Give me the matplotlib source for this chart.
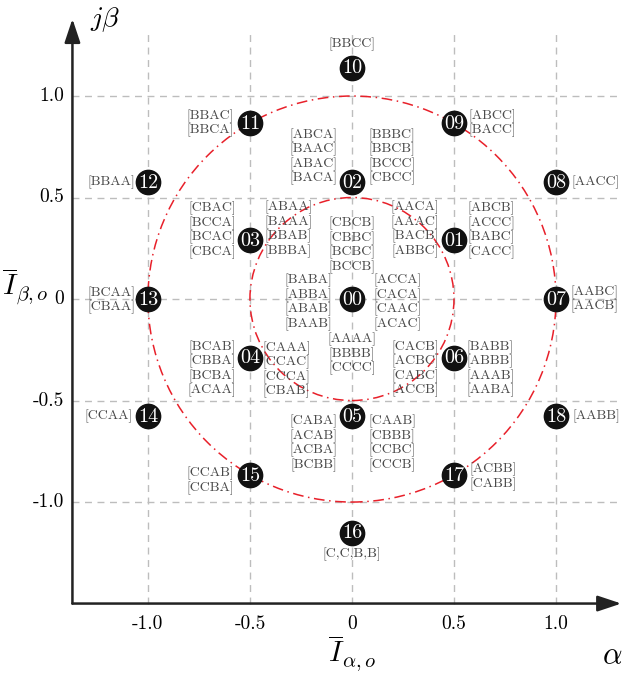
import matplotlib.pyplot as plt
from matplotlib.patches import Circle

plt.rcParams['mathtext.fontset'] = 'cm'

# switching vectors (alpha, beta) and their names
vec_ids = ['00', '01', '02', '03', '04', '05', '06', '07', '08', '09',
           '10', '11', '12', '13', '14', '15', '16', '17', '18']
vec_x = [0.0, 0.5, 0.0, -0.5, -0.5, 0.0, 0.5, 1.0, 1.0, 0.5,
         0.0, -0.5, -1.0, -1.0, -1.0, -0.5, 0.0, 0.5, 1.0]
vec_y = [0.0, 0.289, 0.577, 0.289, -0.289, -0.577, -0.289, 0.0, 0.577, 0.866,
         1.14, 0.866, 0.577, 0.0, -0.577, -0.866, -1.15, -0.866, -0.577]

# switching states written next to each vector
label_vec = ['10', '11', '02', '02', '09', '08', '12', '03', '03', '01', '01',
             '00', '00', '00', '00', '07', '13', '04', '04', '06', '06',
             '14', '18', '05', '05', '15', '17', '16']
label_text = [
    ['[BBCC]'],
    ['[BBAC]', '[BBCA]'],
    ['[ABCA]', '[BAAC]', '[ABAC]', '[BACA]'],
    ['[BBBC]', '[BBCB]', '[BCCC]', '[CBCC]'],
    ['[ABCC]', '[BACC]'],
    ['[AACC]'],
    ['[BBAA]'],
    ['[CBAC]', '[BCCA]', '[BCAC]', '[CBCA]'],
    ['[ABAA]', '[BAAA]', '[BBAB]', '[BBBA]'],
    ['[AACA]', '[AAAC]', '[BACB]', '[ABBC]'],
    ['[ABCB]', '[ACCC]', '[BABC]', '[CACC]'],
    ['[CBCB]', '[CBBC]', '[BCBC]', '[BCCB]'],
    ['[BABA]', '[ABBA]', '[ABAB]', '[BAAB]'],
    ['[ACCA]', '[CACA]', '[CAAC]', '[ACAC]'],
    ['[AAAA]', '[BBBB]', '[CCCC]'],
    ['[AABC]', '[AACB]'],
    ['[BCAA]', '[CBAA]'],
    ['[BCAB]', '[CBBA]', '[BCBA]', '[ACAA]'],
    ['[CAAA]', '[CCAC]', '[CCCA]', '[CBAB]'],
    ['[CACB]', '[ACBC]', '[CABC]', '[ACCB]'],
    ['[BABB]', '[ABBB]', '[AAAB]', '[AABA]'],
    ['[CCAA]'],
    ['[AABB]'],
    ['[CABA]', '[ACAB]', '[ACBA]', '[BCBB]'],
    ['[CAAB]', '[CBBB]', '[CCBC]', '[CCCB]'],
    ['[CCAB]', '[CCBA]'],
    ['[ACBB]', '[CABB]'],
    ['[C,C,B,B]'],
]

# label placement (pixel offset from the vector, horizontal alignment)
label_pos = [
    (0, 23, 'center'), (-16, 0, 'right'), (-15, 25, 'right'), (16, 25, 'left'),
    (14, 0, 'left'), (15, 0, 'left'), (-13, 0, 'right'),
    (-14, 10, 'right'), (14, 11, 'left'), (-15, 11, 'right'), (13, 10, 'left'),
    (0, 54, 'center'), (-20, -3, 'right'), (21, -3, 'left'), (0, -55, 'center'),
    (14, 0, 'left'), (-13, -1, 'right'),
    (-14, -11, 'right'), (12, -12, 'left'), (-15, -11, 'right'), (12, -11, 'left'),
    (-15, 0, 'right'), (16, 0, 'left'),
    (-15, -27, 'right'), (16, -27, 'left'), (-16, -6, 'right'), (15, -2, 'left'),
    (0, -22, 'center'),
]

ticks = [-1.0, -0.5, 0.0, 0.5, 1.0]
tick_text = ['-1.0', '-0.5', '0', '0.5', '1.0']
circle_r = [0.5, 1.0]

fig = plt.figure(figsize=(6.22, 6.74), dpi=100)
ax = fig.add_axes([0, 0, 1, 1])
ax.set_xlim(-1.725, 1.3235)
ax.set_ylim(-1.847, 1.473)
ax.axis('off')

x0, y0 = -1.37, -1.5
grid_kw = dict(color='#bdbdbd', lw=1, linestyle=(0, (5, 4)), zorder=1)
ax.vlines(ticks, y0, 1.33, **grid_kw)
ax.hlines(ticks, x0, 1.33, **grid_kw)

# axes with arrows
arrow = dict(arrowstyle='-|>,head_length=1.2,head_width=0.4', lw=1.8,
             color='#222222', mutation_scale=12, shrinkA=0, shrinkB=0)
ax.annotate('', xy=(1.32, y0), xytext=(x0, y0), arrowprops=arrow, zorder=3)
ax.annotate('', xy=(x0, 1.38), xytext=(x0, y0), arrowprops=arrow, zorder=3)

for r in circle_r:
    ax.add_patch(Circle((0, 0), r, fill=False, ec='#e8202a', lw=1.1,
                        linestyle=(0, (7, 3, 1, 3)), zorder=2))

ax.plot(vec_x, vec_y, 'o', ms=17.5, color='#111111', zorder=4)
for name, x, y in zip(vec_ids, vec_x, vec_y):
    ax.text(x, y - 0.004, name, color='white', fontsize=14.5, family='cmr10',
            ha='center', va='center', zorder=5)

pos = dict(zip(vec_ids, zip(vec_x, vec_y)))
for v, lines, (dx, dy, ha) in zip(label_vec, label_text, label_pos):
    ax.annotate('\n'.join(lines), pos[v], xytext=(dx, dy),
                textcoords='offset pixels', ha=ha, va='center',
                fontsize=10, family='cmr10', color='#4a4a4a',
                linespacing=1.1, zorder=6)

for t, s in zip(ticks, tick_text):
    ax.text(t, -1.6, s, ha='center', va='center', fontsize=14, family='cmr10')
    ax.text(-1.41, t, s, ha='right', va='center', fontsize=14, family='cmr10')

ax.text(-1.21, 1.375, r'$j\beta$', fontsize=20, ha='center', va='center')
ax.text(1.275, -1.754, r'$\alpha$', fontsize=22, ha='center', va='center')
ax.text(0.0, -1.648, r'$\overline{I}_{\alpha,o}$', fontsize=21, ha='center', va='top')
ax.text(-1.6, 0.06, r'$\overline{I}_{\beta,o}$', fontsize=21, ha='center', va='center')

plt.savefig('out.png', dpi=100)
